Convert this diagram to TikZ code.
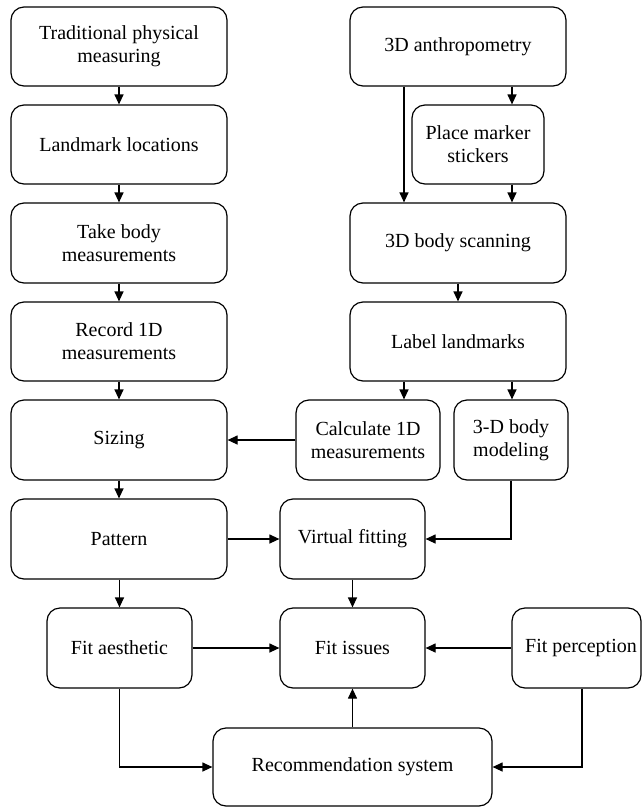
\documentclass[tikz,border=0pt]{standalone}
\usepackage{fontspec}
\setmainfont{Liberation Serif}
\usetikzlibrary{arrows.meta}
\begin{document}
\begin{tikzpicture}[x=1pt,y=1pt,
  box/.style={draw, line width=1.2pt, rounded corners=13pt, inner sep=0pt, align=center,
    font=\fontsize{20}{23}\selectfont},
  arr/.style={line width=1.2pt, -{Triangle[length=10pt,width=9pt]}}]
\useasboundingbox (0,0) rectangle (642,-807);
% left column
\node[box, minimum width=216pt, minimum height=79pt] (trad) at (119,-46.5) {Traditional physical\\measuring};
\node[box, minimum width=216pt, minimum height=79pt] (landm) at (119,-144.5) {Landmark locations};
\node[box, minimum width=216pt, minimum height=80pt] (take) at (119,-243) {Take body\\measurements};
\node[box, minimum width=216pt, minimum height=79pt] (rec1d) at (119,-341.5) {Record 1D\\measurements};
\node[box, minimum width=216pt, minimum height=80pt] (sizing) at (119,-440) {Sizing};
\node[box, minimum width=216pt, minimum height=80pt] (pattern) at (119,-539) {Pattern};
% right column
\node[box, minimum width=216pt, minimum height=79pt] (anth) at (458,-46.5) {3D anthropometry};
\node[box, minimum width=132pt, minimum height=79pt] (place) at (478,-144.5) {Place marker\\stickers};
\node[box, minimum width=216pt, minimum height=80pt] (scan) at (458,-243) {3D body scanning};
\node[box, minimum width=216pt, minimum height=79pt] (label) at (458,-341.5) {Label landmarks};
\node[box, minimum width=144pt, minimum height=80pt] (calc) at (368,-440) {Calculate 1D\\measurements};
\node[box, minimum width=114pt, minimum height=80pt] (model) at (511,-440) {3-D body\\modeling};
\node[box, minimum width=145pt, minimum height=80pt] (virtual) at (352.5,-539) {Virtual fitting};
% bottom
\node[box, minimum width=145pt, minimum height=80pt] (aesth) at (119.5,-648) {Fit aesthetic};
\node[box, minimum width=145pt, minimum height=80pt] (issues) at (352.5,-648) {Fit issues};
\node[box, minimum width=129pt, minimum height=80pt] (percep) at (576.5,-648) {\hspace*{9pt}Fit perception};
\node[box, minimum width=279pt, minimum height=78pt] (recsys) at (352.5,-767) {Recommendation system};
% connectors
\draw[arr] (trad) -- (landm);
\draw[arr] (landm) -- (take);
\draw[arr] (take) -- (rec1d);
\draw[arr] (rec1d) -- (sizing);
\draw[arr] (sizing) -- (pattern);
\draw[arr] (pattern.south -| aesth.north) -- (aesth.north);
\draw[arr] ([xshift=-54pt]anth.south) -- ([xshift=-54pt]scan.north);
\draw[arr] ([xshift=54pt]anth.south) -- ([xshift=54pt]anth.south |- place.north);
\draw[arr] ([xshift=54pt]anth.south |- place.south) -- ([xshift=54pt]scan.north);
\draw[arr] (scan) -- (label);
\draw[arr] ([xshift=-54pt]label.south) -- ([xshift=-54pt]label.south |- calc.north);
\draw[arr] ([xshift=54pt]label.south) -- ([xshift=54pt]label.south |- model.north);
\draw[arr] (calc.west) -- (sizing.east);
\draw[arr] (pattern.east) -- (virtual.west);
\draw[arr] (model.south) |- (virtual.east);
\draw[arr] (virtual) -- (issues);
\draw[arr] (aesth) -- (issues);
\draw[arr] (percep) -- (issues);
\draw[arr] (recsys) -- (issues);
\draw[arr] (aesth.south) |- (recsys.west);
\draw[arr] ([xshift=5.5pt]percep.south) |- (recsys.east);
\end{tikzpicture}
\end{document}
